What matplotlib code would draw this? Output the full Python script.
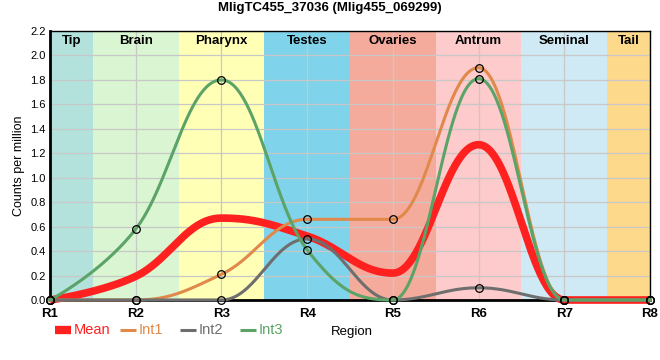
import numpy as np
import matplotlib
matplotlib.use("Agg")
import matplotlib.pyplot as plt
from matplotlib.lines import Line2D
from matplotlib.transforms import blended_transform_factory

plt.rcParams['font.family'] = ['Liberation Sans', 'DejaVu Sans']

regions = ['R1', 'R2', 'R3', 'R4', 'R5', 'R6', 'R7', 'R8']
int1 = [0, 0, 0.21, 0.66, 0.66, 1.90, 0, 0]
int2 = [0, 0, 0, 0.50, 0, 0.10, 0, 0]
int3 = [0, 0.58, 1.80, 0.41, 0, 1.81, 0, 0]
mean = list(np.mean([int1, int2, int3], axis=0))

# tissue bands (edges in region index units)
bands = ['Tip', 'Brain', 'Pharynx', 'Testes', 'Ovaries', 'Antrum', 'Seminal', 'Tail']
band_edges = [1, 1.5, 2.5, 3.5, 4.5, 5.5, 6.5, 7.5, 8]
band_colors = ['#b3e2dd', '#d9f5d1', '#ffffb5', '#7fd3ea', '#f5ab9c',
               '#fdcbcc', '#cfeaf4', '#fdd98b']


def spline(x, y, smoothing=1.5, n=60):
    # bezier spline with horizontal-ish handles, no false extremes
    x = np.asarray(x, float)
    y = np.asarray(y, float)
    k = len(x)
    lc = np.column_stack([x, y]).astype(float)
    rc = lc.copy()
    d = smoothing + 1
    for i in range(1, k - 1):
        lx = (smoothing * x[i] + x[i - 1]) / d
        ly = (smoothing * y[i] + y[i - 1]) / d
        rx = (smoothing * x[i] + x[i + 1]) / d
        ry = (smoothing * y[i] + y[i + 1]) / d
        corr = (ry - ly) * (rx - x[i]) / (rx - lx) + y[i] - ry
        ly += corr
        ry += corr
        if ly > y[i - 1] and ly > y[i]:
            ly = max(y[i - 1], y[i])
            ry = 2 * y[i] - ly
        elif ly < y[i - 1] and ly < y[i]:
            ly = min(y[i - 1], y[i])
            ry = 2 * y[i] - ly
        if ry > y[i + 1] and ry > y[i]:
            ry = max(y[i + 1], y[i])
            ly = 2 * y[i] - ry
        elif ry < y[i + 1] and ry < y[i]:
            ry = min(y[i + 1], y[i])
            ly = 2 * y[i] - ry
        lc[i] = (lx, ly)
        rc[i] = (rx, ry)
    t = np.linspace(0, 1, n)[:, None]
    pts = []
    for i in range(k - 1):
        p0 = np.array([x[i], y[i]])
        p3 = np.array([x[i + 1], y[i + 1]])
        b = ((1 - t)**3 * p0 + 3 * (1 - t)**2 * t * rc[i]
             + 3 * (1 - t) * t**2 * lc[i + 1] + t**3 * p3)
        pts.append(b if i == 0 else b[1:])
    pts = np.vstack(pts)
    return pts[:, 0], pts[:, 1]


xpos = np.arange(1, len(regions) + 1)

fig = plt.figure(figsize=(6.6, 3.6), dpi=100)
ax = fig.add_axes([50 / 660, 60 / 360, 600 / 660, 269 / 360])

for i, name in enumerate(bands):
    ax.axvspan(band_edges[i], band_edges[i + 1], color=band_colors[i], lw=0, zorder=0)
    ax.text((band_edges[i] + band_edges[i + 1]) / 2, 0.985, name,
            transform=blended_transform_factory(ax.transData, ax.transAxes),
            ha='center', va='top', fontsize=9.5, fontweight='bold', zorder=5)

ax.grid(True, color='#c8c8c8', lw=0.9, zorder=1)
ax.set_axisbelow(True)

series = [('Int1', int1, '#e0894b'), ('Int2', int2, '#6e6e6e'), ('Int3', int3, '#5ba366')]
sx, sy = spline(xpos, mean)
ax.plot(sx, sy, color='#ff2020', lw=5.5, zorder=3, clip_on=False, solid_capstyle='butt')
for name, vals, col in series:
    sx, sy = spline(xpos, vals)
    ax.plot(sx, sy, color=col, lw=2.2, zorder=4, clip_on=False)
for name, vals, col in series:
    ax.plot(xpos, vals, 'o', ms=5.5, mfc='none', mec='black', mew=0.9, zorder=6, clip_on=False)

ax.set_xlim(1, 8)
ax.set_ylim(0, 2.2)
ax.set_xticks(xpos)
ax.set_xticklabels(regions, fontsize=9.5, fontweight='bold')
ax.set_yticks(np.arange(0, 2.21, 0.2))
ax.set_yticklabels(['%.1f' % v for v in np.arange(0, 2.21, 0.2)], fontsize=8)
ax.tick_params(axis='x', length=0, pad=6)
ax.tick_params(axis='y', length=0, pad=3)
ax.set_ylabel('Counts per million', fontsize=9)

for s in ['left', 'bottom']:
    ax.spines[s].set_linewidth(2)
for s in ['top', 'right']:
    ax.spines[s].set_linewidth(1)

fig.suptitle('MligTC455_37036 (Mlig455_069299)', y=0.995, fontsize=9.5, fontweight='bold')

# legend row drawn by hand (figure pixel positions)
legend_items = [('Mean', '#ff2020', 6.0), ('Int1', '#e0894b', 2.2),
                ('Int2', '#6e6e6e', 2.2), ('Int3', '#5ba366', 2.2)]
legend_x = [55, 120, 180, 240]
ly = 1 - 330 / 360
for (name, col, w), x0 in zip(legend_items, legend_x):
    fig.add_artist(Line2D([x0 / 660, (x0 + 16) / 660], [ly, ly], color=col, lw=w,
                          solid_capstyle='butt'))
    fig.text((x0 + 19) / 660, ly, name, color=col, fontsize=10.5, va='center')
fig.text(331 / 660, 1 - 332 / 360, 'Region', fontsize=9.5, va='center')

fig.savefig('out.png', dpi=100)
